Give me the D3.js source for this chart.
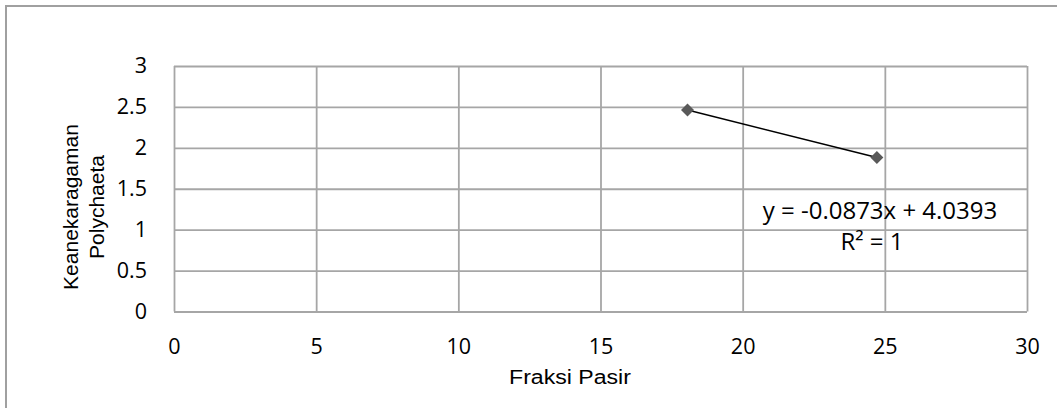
<!DOCTYPE html>
<html>
<head>
<meta charset="utf-8">
<script src="https://cdn.jsdelivr.net/npm/d3@7"></script>
<style>
  html, body { margin: 0; padding: 0; background: #fff; }
  svg { display: block; }
</style>
</head>
<body>
<svg id="chart" width="1057" height="408"></svg>
<script>
// ---- data ----
const xValues = [18.06, 24.72];           // Fraksi Pasir
const yValues = [2.463, 1.881];           // Keanekaragaman Polychaeta
const xTicks = [0, 5, 10, 15, 20, 25, 30];
const yTicks = [0, 0.5, 1, 1.5, 2, 2.5, 3];
const xTitle = "Fraksi Pasir";
const yTitleLines = ["Keanekaragaman", "Polychaeta"];
const trendLabel = ["y = -0.0873x + 4.0393", "R\u00B2 = 1"];

const points = xValues.map((x, i) => ({ x, y: yValues[i] }));

const W = 1057, H = 408;
const margin = { left: 174, right: 30, top: 66, bottom: 96.5 };
const svg = d3.select("#chart");

// outer chart border
svg.append("rect")
  .attr("x", 6).attr("y", 6)
  .attr("width", W + 10).attr("height", H + 10)
  .attr("fill", "#fff").attr("stroke", "#a0a0a0").attr("stroke-width", 2);

const x = d3.scaleLinear().domain([0, 30]).range([margin.left, W - margin.right]);
const y = d3.scaleLinear().domain([0, 3]).range([H - margin.bottom, margin.top]);

const tickFont = "'Open Sans', 'DejaVu Sans', sans-serif";
const gridColor = "#a6a6a6";

// gridlines via axes
const gx = svg.append("g")
  .attr("transform", `translate(0,${margin.top})`)
  .call(d3.axisBottom(x).tickValues(xTicks).tickSize(H - margin.bottom - margin.top).tickFormat(""));
gx.select(".domain").remove();
gx.selectAll("line").attr("stroke", gridColor).attr("stroke-width", 1.8);

const gy = svg.append("g")
  .attr("transform", `translate(${margin.left},0)`)
  .call(d3.axisRight(y).tickValues(yTicks).tickSize(W - margin.right - margin.left).tickFormat(""));
gy.select(".domain").remove();
gy.selectAll("line").attr("stroke", gridColor).attr("stroke-width", 1.8);

// tick labels
const xAxis = svg.append("g")
  .attr("transform", `translate(0,${H - margin.bottom})`)
  .call(d3.axisBottom(x).tickValues(xTicks).tickSize(0).tickPadding(27).tickFormat(d3.format("")));
xAxis.select(".domain").remove();
xAxis.selectAll("text").attr("font-family", tickFont).attr("font-size", 21.5).attr("fill", "#000");

const yAxis = svg.append("g")
  .attr("transform", `translate(${margin.left},0)`)
  .call(d3.axisLeft(y).tickValues(yTicks).tickSize(0).tickPadding(27).tickFormat(d3.format("")));
yAxis.select(".domain").remove();
yAxis.selectAll("text").attr("font-family", tickFont).attr("font-size", 21.5).attr("fill", "#000");

// axis titles
const titleFont = "'Liberation Sans', Arial, sans-serif";
svg.append("text")
  .attr("x", 570).attr("y", 384)
  .attr("text-anchor", "middle")
  .attr("font-family", titleFont).attr("font-size", 21)
  .attr("transform", "translate(570,0) scale(1.1,1) translate(-570,0)")
  .text(xTitle);

const yt = svg.append("text")
  .attr("transform", "translate(0,207) rotate(-90)")
  .attr("text-anchor", "middle")
  .attr("font-family", titleFont).attr("font-size", 21);
yt.selectAll("tspan").data(yTitleLines).join("tspan")
  .attr("x", 0)
  .attr("y", (d, i) => 78 + i * 26)
  .text(d => d);

// trend line between points
svg.append("path")
  .datum(points)
  .attr("d", d3.line().x(d => x(d.x)).y(d => y(d.y)))
  .attr("fill", "none").attr("stroke", "#000").attr("stroke-width", 1.5);

// diamond markers
svg.selectAll(".pt").data(points).join("path")
  .attr("class", "pt")
  .attr("d", d3.symbol(d3.symbolSquare, 85))
  .attr("transform", d => `translate(${x(d.x)},${y(d.y)}) rotate(45)`)
  .attr("fill", "#595959");

// trendline label
svg.append("text")
  .attr("x", 880).attr("y", 219)
  .attr("text-anchor", "middle")
  .attr("font-family", tickFont).attr("font-size", 24)
  .text(trendLabel[0]);
svg.append("text")
  .attr("x", 872).attr("y", 250)
  .attr("text-anchor", "middle")
  .attr("font-family", tickFont).attr("font-size", 24)
  .text(trendLabel[1]);
</script>
</body>
</html>
